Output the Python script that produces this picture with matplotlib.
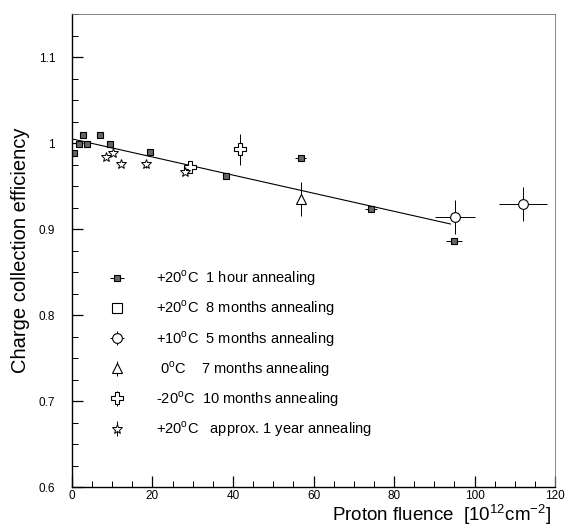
import matplotlib
matplotlib.use("Agg")
import matplotlib.pyplot as plt
from matplotlib.ticker import MultipleLocator, FuncFormatter

plt.rcParams['font.family'] = ['Liberation Sans', 'DejaVu Sans']
plt.rcParams['mathtext.fontset'] = 'custom'
plt.rcParams['mathtext.rm'] = 'Liberation Sans'

# +20C 1 hour annealing (filled squares)
hour_x = [0.5, 1.7, 2.8, 3.8, 7.0, 9.4, 19.5, 38.4, 56.8, 74.3, 94.9]
hour_y = [0.989, 0.999, 1.009, 0.999, 1.009, 0.999, 0.990, 0.962, 0.983, 0.923, 0.886]
hour_xerr = [0, 0, 0, 0, 0, 0, 0, 0, 1.3, 1.5, 2.0]

# +20C 8 months annealing (open squares) - none visible apart from legend
months8_x = []
months8_y = []

# +10C 5 months annealing (open circles)
c10_x = [95.2, 112.0]
c10_y = [0.914, 0.929]
c10_xerr = [5.0, 6.0]
c10_yerr = [0.02, 0.02]

# 0C 7 months annealing (triangle)
c0_x = [56.8]
c0_y = [0.935]
c0_yerr = [0.02]

# -20C 10 months annealing (open cross)
m20_x = [41.7, 29.3]
m20_y = [0.993, 0.972]
m20_yerr = [0.018, 0.0]

# +20C approx. 1 year annealing (stars)
year_x = [8.6, 10.3, 12.1, 18.4, 28.1]
year_y = [0.984, 0.989, 0.976, 0.976, 0.967]
year_yerr = [0, 0, 0, 0.005, 0]

# linear fit
fit_x = [0, 94]
fit_y = [1.005, 0.906]

fig = plt.figure(figsize=(5.70, 5.26), dpi=100)
ax = fig.add_axes([0.126, 0.074, 0.848, 0.899])

ax.plot(fit_x, fit_y, color='black', lw=0.8)

h1 = ax.errorbar(hour_x, hour_y, xerr=hour_xerr, fmt='s', ms=5, mfc='0.4', mec='black',
                 mew=0.8, ecolor='black', elinewidth=0.7, capsize=0)
h2, = ax.plot(months8_x, months8_y, 's', ms=7, mfc='white', mec='black', mew=0.8)
h3 = ax.errorbar(c10_x, c10_y, xerr=c10_xerr, yerr=c10_yerr, fmt='o', ms=7, mfc='white',
                 mec='black', mew=0.8, ecolor='black', elinewidth=0.7, capsize=0)
h4 = ax.errorbar(c0_x, c0_y, yerr=c0_yerr, fmt='^', ms=7, mfc='white', mec='black',
                 mew=0.8, ecolor='black', elinewidth=0.7, capsize=0)
h5 = ax.errorbar(m20_x, m20_y, yerr=m20_yerr, fmt='P', ms=8, mfc='white', mec='black',
                 mew=0.8, ecolor='black', elinewidth=0.7, capsize=0)
h6 = ax.errorbar(year_x, year_y, yerr=year_yerr, fmt='*', ms=7, mfc='white', mec='black',
                 mew=0.7, ecolor='black', elinewidth=0.7, capsize=0)

ax.set_xlim(0, 120)
ax.set_ylim(0.6, 1.15)
ax.xaxis.set_major_locator(MultipleLocator(20))
ax.xaxis.set_minor_locator(MultipleLocator(5))
ax.yaxis.set_major_locator(MultipleLocator(0.1))
ax.yaxis.set_minor_locator(MultipleLocator(0.025))
ax.yaxis.set_major_formatter(FuncFormatter(lambda v, p: '%g' % round(v, 2)))
ax.tick_params(which='both', direction='in', top=False, right=False, labelsize=8.5)
ax.tick_params(which='major', length=8, width=0.9)
ax.tick_params(which='minor', length=4, width=0.7)
ax.tick_params(axis='x', pad=2)
ax.tick_params(axis='y', pad=12)
for s in ['top', 'right']:
    ax.spines[s].set_linewidth(0.6)
    ax.spines[s].set_color('0.45')
for s in ['left', 'bottom']:
    ax.spines[s].set_linewidth(1.0)

ax.set_ylabel('Charge collection efficiency', fontsize=14.5, labelpad=6)
ax.set_xlabel(r'Proton fluence  [10$^{12}$cm$^{-2}$]', fontsize=13.5)
ax.xaxis.set_label_coords(0.766, -0.032)

labels = [r'+20$^{\rm o}$C  1 hour annealing',
          r'+20$^{\rm o}$C  8 months annealing',
          r'+10$^{\rm o}$C  5 months annealing',
          r' 0$^{\rm o}$C    7 months annealing',
          r'-20$^{\rm o}$C  10 months annealing',
          r'+20$^{\rm o}$C   approx. 1 year annealing']
ax.legend([h1, h2, h3, h4, h5, h6], labels, loc='upper left', bbox_to_anchor=(0.03, 0.49),
          frameon=False, fontsize=10.5, handlelength=2.4, handletextpad=1.5, labelspacing=0.72,
          numpoints=1)

fig.savefig('out.png', dpi=100)
